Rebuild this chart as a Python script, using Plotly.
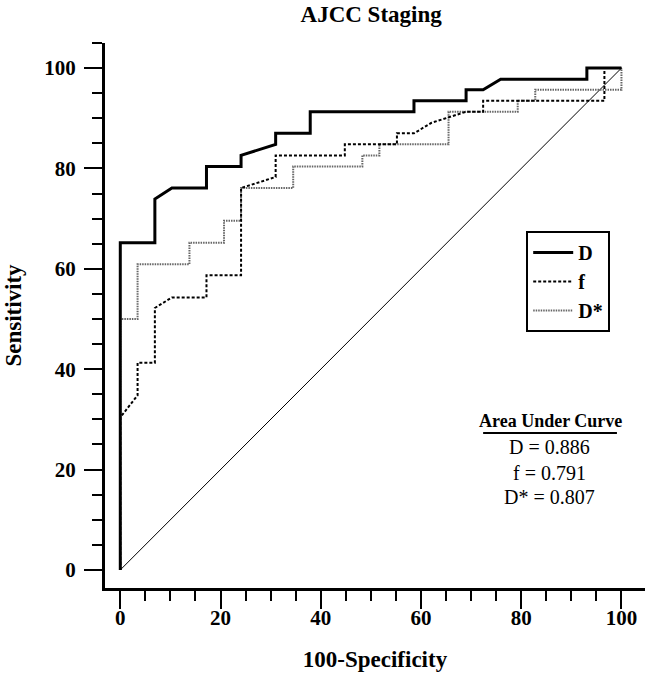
import plotly.graph_objects as go

# ROC curve data (100-Specificity, Sensitivity)
d_x = [0, 0, 6.9, 6.9, 10.3, 17.2, 17.2, 24.1, 24.1, 31.0, 31.0, 37.9, 37.9, 58.6, 58.6, 69.0, 69.0, 72.4, 75.9, 93.1, 93.1, 100]
d_y = [0, 65.2, 65.2, 73.9, 76.1, 76.1, 80.4, 80.4, 82.6, 84.8, 87.0, 87.0, 91.3, 91.3, 93.5, 93.5, 95.7, 95.7, 97.8, 97.8, 100, 100]

f_x = [0, 0, 3.45, 3.45, 6.9, 6.9, 10.3, 17.2, 17.2, 24.1, 24.1, 31.0, 31.0, 44.8, 44.8, 55.2, 55.2, 58.6, 62.1, 69.0, 72.4, 72.4, 96.6, 96.6, 100]
f_y = [0, 30.4, 34.8, 41.3, 41.3, 52.2, 54.3, 54.3, 58.7, 58.7, 76.1, 78.3, 82.6, 82.6, 84.8, 84.8, 87.0, 87.0, 89.1, 91.3, 91.3, 93.5, 93.5, 100, 100]

ds_x = [0, 0, 3.45, 3.45, 13.8, 13.8, 20.7, 20.7, 24.1, 24.1, 34.5, 34.5, 48.3, 48.3, 51.7, 51.7, 65.5, 65.5, 79.3, 79.3, 82.8, 82.8, 100, 100]
ds_y = [0, 50.0, 50.0, 60.9, 60.9, 65.2, 65.2, 69.6, 69.6, 76.1, 76.1, 80.4, 80.4, 82.6, 82.6, 84.8, 84.8, 91.3, 91.3, 93.5, 93.5, 95.7, 95.7, 100]

ref_x = [0, 100]
ref_y = [0, 100]

tick_vals = [0, 20, 40, 60, 80, 100]
tick_text = ["0", "20", "40", "60", "80", "100"]

auc_names = ["D", "f", "D*"]
auc_values = [0.886, 0.791, 0.807]

FONT = "Liberation Serif, Times New Roman, serif"

fig = go.Figure()
fig.add_trace(go.Scatter(x=ref_x, y=ref_y, mode="lines", line=dict(color="black", width=1),
                         showlegend=False, hoverinfo="skip"))
fig.add_trace(go.Scatter(x=ds_x, y=ds_y, mode="lines", name="<b>D*</b>",
                         line=dict(color="#666666", width=2, dash="1.5px,1px"), legendrank=3))
fig.add_trace(go.Scatter(x=f_x, y=f_y, mode="lines", name="<b>f</b>",
                         line=dict(color="black", width=2, dash="3px,2px"), legendrank=2))
fig.add_trace(go.Scatter(x=d_x, y=d_y, mode="lines", name="<b>D</b>",
                         line=dict(color="black", width=3), legendrank=1))

axis_common = dict(
    showline=True, linecolor="black", linewidth=3,
    showgrid=False, zeroline=False,
    ticks="outside", ticklen=18, tickwidth=2, tickcolor="black",
    tickvals=tick_vals, ticktext=tick_text,
    tickfont=dict(family=FONT, size=21, color="black", weight="bold"),
    minor=dict(ticks="outside", ticklen=10, tickwidth=2, tickcolor="black", dtick=5, tick0=0, showgrid=False),
)

fig.update_xaxes(range=[-3.05, 104.7], ticklabelstandoff=-9,
                 title=dict(text="<b>100-Specificity</b>",
                            font=dict(family=FONT, size=23, color="black"), standoff=22), **axis_common)
fig.update_yaxes(range=[-3.6, 105], ticklabelstandoff=4,
                 title=dict(text="<b>Sensitivity</b>",
                            font=dict(family=FONT, size=23, color="black"), standoff=17), **axis_common)

fig.add_annotation(x=85.9, y=29.6, xref="x", yref="y", text="<b>Area Under Curve</b>",
                   showarrow=False, font=dict(family=FONT, size=18, color="black"))
fig.add_shape(type="line", x0=72.4, x1=99.1, y0=27.3, y1=27.3, xref="x", yref="y",
              line=dict(color="black", width=2))
auc_y = [24.4, 19.4, 14.5]
for n, v, yy in zip(auc_names, auc_values, auc_y):
    fig.add_annotation(x=85.6, y=yy, xref="x", yref="y", text=f"{n} = {v:.3f}",
                       showarrow=False, font=dict(family=FONT, size=20, color="black"))

fig.update_layout(
    width=650, height=676,
    margin=dict(l=105, r=5, t=43, b=88),
    paper_bgcolor="white", plot_bgcolor="white",
    hovermode=False,
    title=dict(text="<b>AJCC Staging</b>", x=0.571, xanchor="center", y=0.979, yanchor="middle",
               font=dict(family=FONT, size=23, color="black")),
    legend=dict(x=0.78, y=0.655, xanchor="left", yanchor="top",
                bordercolor="black", borderwidth=2, bgcolor="white",
                font=dict(family=FONT, size=20, color="black"),
                tracegroupgap=4, itemwidth=40, entrywidth=60),
    showlegend=True,
)

fig.write_html("out.html", config={"displayModeBar": False, "staticPlot": True},
               post_script="document.body.style.margin='0px';")
